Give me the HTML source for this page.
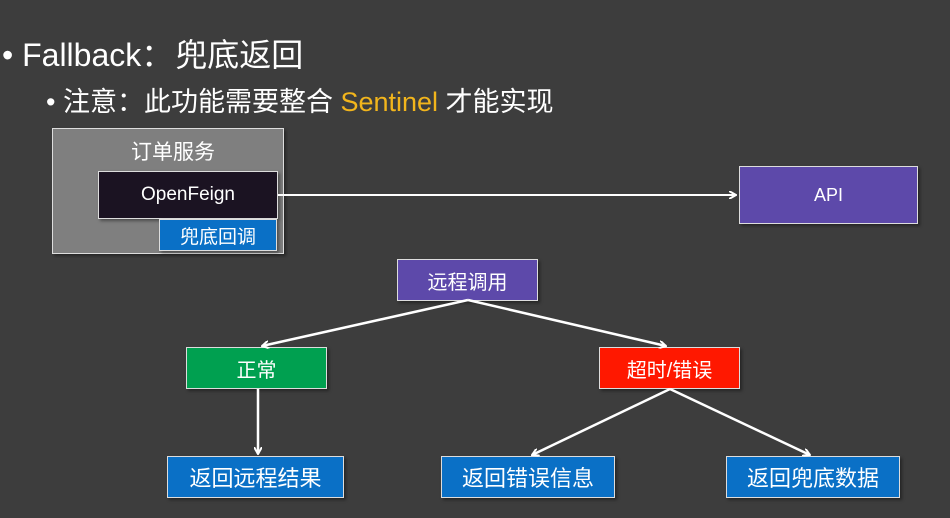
<!DOCTYPE html>
<html><head><meta charset="utf-8"><style>
body{margin:0;width:950px;height:518px;background:#3d3d3d;overflow:hidden;font-family:"Liberation Sans","Noto Sans CJK SC",sans-serif;color:#fff;position:relative}
.t{position:absolute;white-space:nowrap}
.b{position:absolute;box-sizing:border-box;border:1px solid #ddd;display:flex;align-items:center;justify-content:center;font-size:20px;color:#fff;box-shadow:2px 2px 3px rgba(0,0,0,.4)}
</style></head><body>
<div class="t" style="left:2px;top:30px;font-size:32px">• Fallback：<span style="margin-left:2px">兜底返回</span></div>
<div class="t" style="left:46px;top:80px;font-size:27px">• 注意：此功能需要整合 <span style="color:#f2b51c">Sentinel</span> 才能实现</div>
<div class="b" style="left:52px;top:128px;width:232px;height:126px;background:#7f7f7f;align-items:flex-start;padding-top:7px;padding-left:10px;font-size:21px">订单服务</div>
<div class="b" style="left:98px;top:171px;width:180px;height:48px;background:#1b1322;font-size:19px">OpenFeign</div>
<div class="b" style="left:159px;top:219px;width:118px;height:32px;background:#0a70c6;font-size:19px">兜底回调</div>
<div class="b" style="left:739px;top:166px;width:179px;height:58px;background:#5d49aa;font-size:18px">API</div>
<div class="b" style="left:397px;top:259px;width:141px;height:42px;background:#5d49aa">远程调用</div>
<div class="b" style="left:186px;top:347px;width:141px;height:42px;background:#00a050">正常</div>
<div class="b" style="left:599px;top:347px;width:141px;height:42px;background:#ff1800">超时/错误</div>
<div class="b" style="left:167px;top:456px;width:177px;height:42px;background:#0a70c6;font-size:22px">返回远程结果</div>
<div class="b" style="left:441px;top:456px;width:174px;height:42px;background:#0a70c6;font-size:22px">返回错误信息</div>
<div class="b" style="left:726px;top:456px;width:174px;height:42px;background:#0a70c6;font-size:22px">返回兜底数据</div>
<svg width="950" height="518" style="position:absolute;left:0;top:0" fill="none" stroke="#fff" stroke-width="2.5">
<defs><marker id="a" markerWidth="8" markerHeight="8" refX="7" refY="4" orient="auto" markerUnits="userSpaceOnUse"><path d="M0,0 L7,4 L0,8" stroke="#fff" stroke-width="2" fill="none"/></marker></defs>
<line x1="278" y1="195" x2="736" y2="195" stroke-width="2" marker-end="url(#a)"/>
<line x1="468" y1="300" x2="262" y2="346" marker-end="url(#a)"/>
<line x1="468" y1="300" x2="666" y2="346" marker-end="url(#a)"/>
<line x1="258" y1="389" x2="258" y2="454" marker-end="url(#a)"/>
<line x1="670" y1="389" x2="532" y2="455" marker-end="url(#a)"/>
<line x1="670" y1="389" x2="810" y2="455" marker-end="url(#a)"/>
</svg>
</body></html>
